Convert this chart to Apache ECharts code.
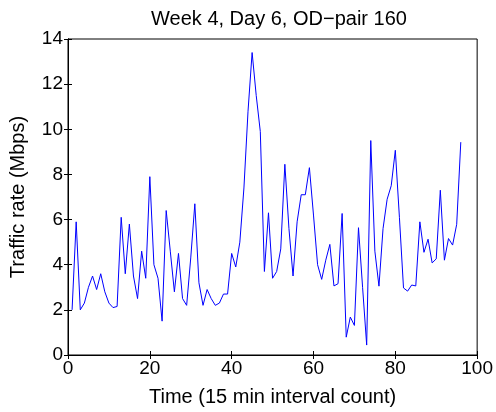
<!DOCTYPE html>
<html>
<head>
<meta charset="utf-8">
<script src="https://cdn.jsdelivr.net/npm/echarts@6/dist/echarts.min.js"></script>
<style>
  html, body { margin: 0; padding: 0; background: #fff; }
  #chart { width: 496px; height: 412px; }
</style>
</head>
<body>
<div id="chart"></div>
<script>
// traffic rate per 15 min interval, intervals 1..96
const intervals = Array.from({ length: 96 }, (_, i) => i + 1);
const traffic = [
  2.0, 5.9, 2.0, 2.3, 3.0, 3.5, 2.9, 3.6, 2.8, 2.3,
  2.1, 2.15, 6.1, 3.6, 5.8, 3.5, 2.5, 4.6, 3.4, 7.9,
  4.0, 3.4, 1.5, 6.4, 4.6, 2.8, 4.5, 2.5, 2.2, 4.3,
  6.7, 3.2, 2.2, 2.9, 2.5, 2.2, 2.3, 2.7, 2.7, 4.5,
  3.9, 5.0, 7.4, 10.8, 13.4, 11.5, 9.9, 3.7, 6.3, 3.4,
  3.7, 4.7, 8.45, 5.6, 3.5, 5.9, 7.1, 7.1, 8.3, 6.2,
  4.0, 3.35, 4.2, 4.9, 3.06, 3.16, 6.27, 0.79, 1.68, 1.31,
  5.64, 3.0, 0.44, 9.5, 4.6, 3.05, 5.6, 6.9, 7.5, 9.07,
  6.1, 2.97, 2.83, 3.1, 3.06, 5.9, 4.55, 5.13, 4.08, 4.26,
  7.3, 4.2, 5.16, 4.87, 5.79, 9.43
];
const titleText = "Week 4, Day 6, OD\u2212pair 160";
const xName = "Time (15 min interval count)";
const yName = "Traffic rate (Mbps)";

const chart = echarts.init(document.getElementById("chart"));
const font = "Liberation Sans, Arial, sans-serif";
const tickIn = { show: true, inside: true, length: 4, lineStyle: { color: "#000", width: 1 } };

chart.setOption({
  animation: false,
  title: {
    text: titleText,
    left: 274,
    top: 4,
    textAlign: "center",
    textStyle: { fontFamily: font, fontSize: 20, fontWeight: "normal", color: "#000" }
  },
  grid: {
    left: 68,
    right: 17,
    top: 39,
    bottom: 53,
    show: true,
    borderColor: "#000",
    borderWidth: 1,
    backgroundColor: "#fff"
  },
  xAxis: [{
    type: "value",
    min: 0,
    max: 100,
    interval: 20,
    name: xName,
    nameLocation: "middle",
    nameGap: 32,
    nameTextStyle: { fontFamily: font, fontSize: 20, color: "#000" },
    axisLine: { show: true, lineStyle: { color: "#000" } },
    axisTick: tickIn,
    axisLabel: { fontFamily: font, fontSize: 19, color: "#000", margin: 4 },
    splitLine: { show: false }
  }, {
    type: "value",
    position: "top",
    min: 0,
    max: 100,
    interval: 20,
    axisLine: { show: true, lineStyle: { color: "#000" } },
    axisTick: tickIn,
    axisLabel: { show: false },
    splitLine: { show: false }
  }],
  yAxis: [{
    type: "value",
    min: 0,
    max: 14,
    interval: 2,
    name: yName,
    nameLocation: "middle",
    nameGap: 40,
    nameTextStyle: { fontFamily: font, fontSize: 20, color: "#000" },
    axisLine: { show: true, lineStyle: { color: "#000" } },
    axisTick: tickIn,
    axisLabel: { fontFamily: font, fontSize: 19, color: "#000", margin: 5 },
    splitLine: { show: false }
  }, {
    type: "value",
    position: "right",
    min: 0,
    max: 14,
    interval: 2,
    axisLine: { show: true, lineStyle: { color: "#000" } },
    axisTick: tickIn,
    axisLabel: { show: false },
    splitLine: { show: false }
  }],
  series: [{
    type: "line",
    data: intervals.map((x, i) => [x, traffic[i]]),
    showSymbol: false,
    lineStyle: { color: "#0000ff", width: 1 },
    itemStyle: { color: "#0000ff" }
  }]
});
</script>
</body>
</html>
